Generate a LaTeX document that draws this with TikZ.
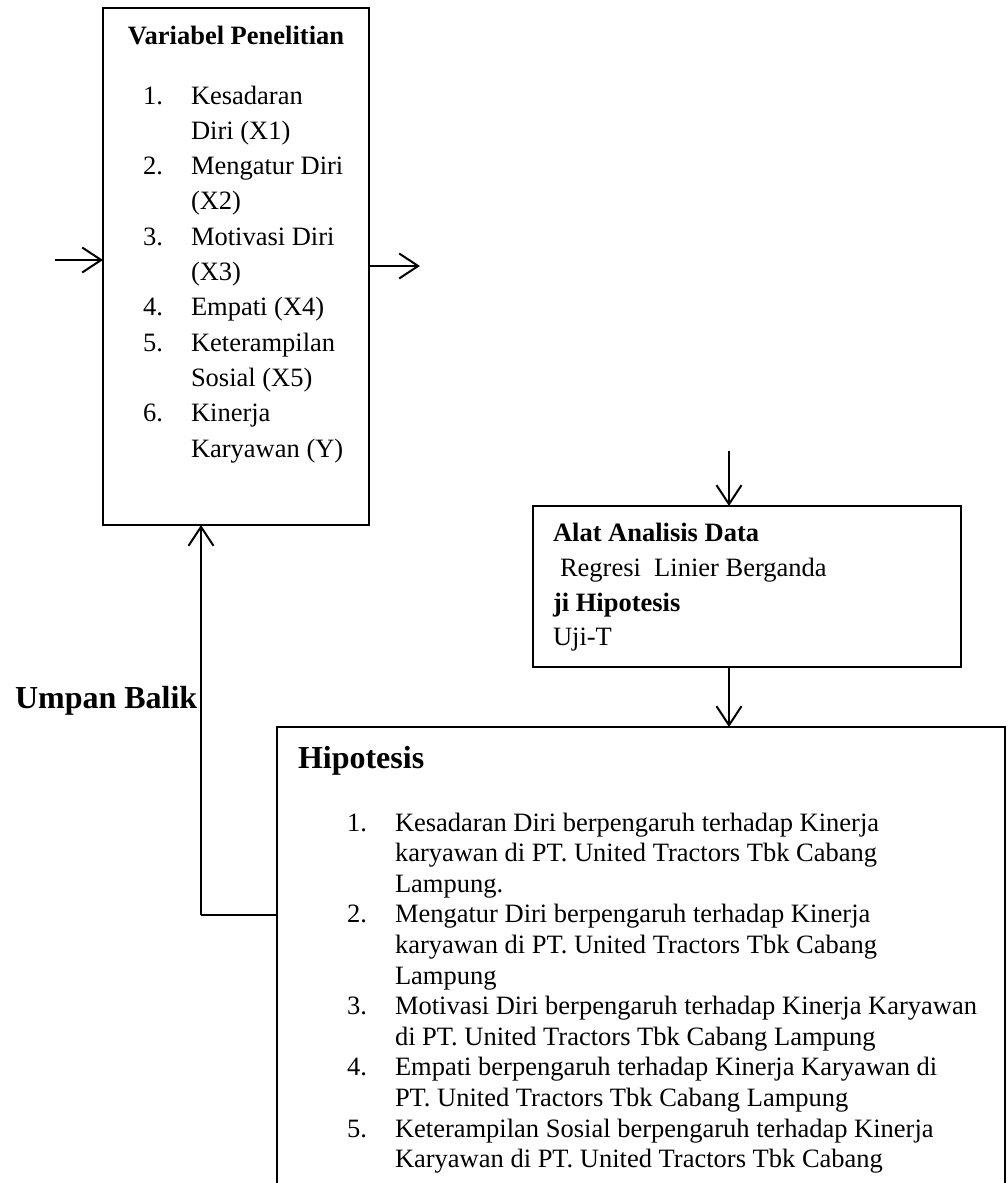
\documentclass[tikz,border=0pt]{standalone}
\usepackage{fontspec}
\setmainfont{Liberation Serif}
\usetikzlibrary{arrows.meta}
\begin{document}
\begin{tikzpicture}[x=1pt,y=-1pt,
  txt/.style={inner sep=0pt, outer sep=0pt, anchor=base west, font=\fontsize{26.5}{30}\selectfont},
  boldtxt/.style={txt, font=\fontsize{26.5}{30}\selectfont\bfseries},
  bigbold/.style={txt, font=\fontsize{32}{36}\selectfont\bfseries},
  boxstyle/.style={draw, line width=2pt, inner sep=0pt, outer sep=0pt, anchor=north west},
  arr/.style={line width=2pt, -{Straight Barb[length=19pt,width=25pt,line width=2pt]}},
  conn/.style={line width=2pt}]
\path[use as bounding box] (0,0) rectangle (1008,1183);
\clip (0,0) rectangle (1008,1183);
\fill[white] (0,0) rectangle (1008,1183);

% Box 1
\node[boxstyle, minimum width=266pt, minimum height=517pt] (box1) at (103,8) {};
\node[boldtxt, anchor=base] (t1) at (236,44) {Variabel Penelitian};
\foreach \t [count=\i] in {Kesadaran,Diri (X1),Mengatur Diri,(X2),Motivasi Diri,(X3),Empati (X4),Keterampilan,Sosial (X5),Kinerja,Karyawan (Y)}
  \node[txt] (v\i) at (191,{104+(\i-1)*35.3}) {\t};
\foreach \n/\l in {1/1,2/3,3/5,4/7,5/8,6/10}
  \node[txt] (vn\n) at (143,{104+(\l-1)*35.3}) {\n.};

% Box 2
\node[boxstyle, minimum width=428pt, minimum height=161pt] (box2) at (533,506) {};
\node[boldtxt] (a1) at (553,541) {Alat Analisis Data};
\node[txt] (a2) at (560,576) {Regresi\hspace{0.5em}Linier Berganda};
\node[boldtxt] (a3) at (553,611) {ji Hipotesis};
\node[txt] (a4) at (553,645) {Uji-T};

% Box 3
\node[boxstyle, minimum width=728pt, minimum height=600pt] (box3) at (277,727) {};
\node[bigbold] (h0) at (298,768) {Hipotesis};
\foreach \t [count=\i] in {Kesadaran Diri berpengaruh terhadap Kinerja,karyawan di PT. United Tractors Tbk Cabang,Lampung.,Mengatur Diri berpengaruh terhadap Kinerja,karyawan di PT. United Tractors Tbk Cabang,Lampung,Motivasi Diri berpengaruh terhadap Kinerja Karyawan,di PT. United Tractors Tbk Cabang Lampung,Empati berpengaruh terhadap Kinerja Karyawan di,PT. United Tractors Tbk Cabang Lampung,Keterampilan Sosial berpengaruh terhadap Kinerja,Karyawan di PT. United Tractors Tbk Cabang}
  \node[txt] (h\i) at (395,{831+(\i-1)*30.6}) {\t};
\foreach \n/\l in {1/1,2/4,3/7,4/9,5/11}
  \node[txt] (hn\n) at (347,{831+(\l-1)*30.6}) {\n.};

% Umpan Balik label
\node[bigbold] (ub) at (15,708) {Umpan Balik};

% Connectors
\coordinate (lin) at (55,260);
\coordinate (rout) at (420,266);
\coordinate (din) at (729,451);
\coordinate (fb) at (201,915);
\draw[arr] (lin) -- (lin -| box1.west);
\draw[arr] (box1.east |- rout) -- (rout);
\draw[arr] (din) -- (din |- box2.north);
\draw[arr] (box2.south -| din) -- (box3.north -| din);
\draw[conn] (box3.west |- fb) -- (fb);
\draw[arr] (fb) -- (fb |- box1.south);
\end{tikzpicture}
\end{document}
